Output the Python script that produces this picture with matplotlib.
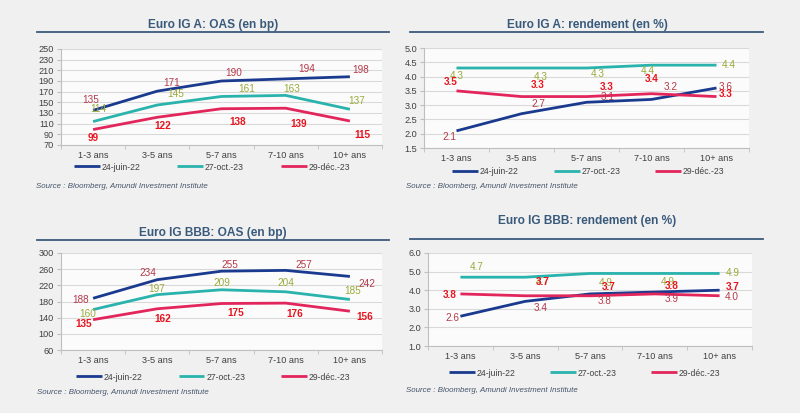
import numpy as np
import matplotlib
matplotlib.use("Agg")
import matplotlib.pyplot as plt
from matplotlib.lines import Line2D

plt.rcParams['font.family'] = ['Liberation Sans', 'DejaVu Sans']

# data
categories = ["1-3 ans", "3-5 ans", "5-7 ans", "7-10 ans", "10+ ans"]
series_names = ["24-juin-22", "27-oct.-23", "29-déc.-23"]

a_oas_jun22 = [135, 171, 190, 194, 198]
a_oas_oct23 = [114, 145, 161, 163, 137]
a_oas_dec23 = [99, 122, 138, 139, 115]

a_yld_jun22 = [2.1, 2.7, 3.1, 3.2, 3.6]
a_yld_oct23 = [4.3, 4.3, 4.3, 4.4, 4.4]
a_yld_dec23 = [3.5, 3.3, 3.3, 3.4, 3.3]

bbb_oas_jun22 = [188, 234, 255, 257, 242]
bbb_oas_oct23 = [160, 197, 209, 204, 185]
bbb_oas_dec23 = [135, 162, 175, 176, 156]

bbb_yld_jun22 = [2.6, 3.4, 3.8, 3.9, 4.0]
bbb_yld_oct23 = [4.7, 4.7, 4.9, 4.9, 4.9]
bbb_yld_dec23 = [3.8, 3.7, 3.7, 3.8, 3.7]

source = "Source : Bloomberg, Amundi Investment Institute"

# styles
W, H = 800, 413
line_cols = ["#1a3a8f", "#2ab3ad", "#e2265c"]
lab_cols = ["#b5394a", "#9aaa3a", "#e8141e"]
lab_weights = ["normal", "normal", "bold"]
title_col = "#3a5a7c"

fig = plt.figure(figsize=(W / 100, H / 100), dpi=100, facecolor="#f0f0f0")


def fx(px):
    return px / W


def fy(py):
    return 1 - py / H


# label offsets in pixels (dx, dy) per series per point
off_tl = [[(-2, 10), (14, 8), (12, 8), (21, 10), (11, 7)],
          [(5, 13), (18, 11), (25, 7), (6, 6), (7, 8)],
          [(0, -8), (5, -9), (16, -13), (13, -16), (13, -14)]]
off_tr = [[(-7, -6), (17, 10), (21, 5), (19, 12), (9, 1)],
          [(0, -8), (19, -9), (11, -6), (-4, -6), (12, 0)],
          [(-6, 9), (16, 12), (20, 10), (0, 15), (9, 3)]]
off_bl = [[(-13, -2), (-9, 7), (8, 6), (18, 5), (17, -8)],
          [(-5, -4), (-1, 6), (0, 7), (0, 9), (3, 8)],
          [(-9, -4), (5, -10), (14, -9), (9, -11), (15, -6)]]
off_br = [[(-8, -2), (15, -7), (15, -7), (17, -7), (12, -7)],
          [(16, 10), (17, -5), (16, -10), (13, -9), (13, 0)],
          [(-11, -1), (18, 14), (19, 9), (17, 8), (13, 9)]]

panels = [
    dict(title="Euro IG A: OAS (en bp)", box=(61, 49, 382, 145),
         data=[a_oas_jun22, a_oas_oct23, a_oas_dec23], ylim=(70, 250),
         yticks=np.arange(70, 251, 20), fmt="{:.0f}", off=off_tl,
         title_xy=(213, 25), rule=(37, 389, 32), leg=(74, 167), src=(36, 186),
         colsp=4.3),
    dict(title="Euro IG A: rendement (en %)", box=(424, 48, 749, 148),
         data=[a_yld_jun22, a_yld_oct23, a_yld_dec23], ylim=(1.5, 5.0),
         yticks=np.arange(1.5, 5.01, 0.5), fmt="{:.1f}", off=off_tr,
         title_xy=(587, 25), rule=(410, 763, 32), leg=(452, 172), src=(406, 186),
         colsp=4.1),
    dict(title="Euro IG BBB: OAS (en bp)", box=(61, 253, 382, 350),
         data=[bbb_oas_jun22, bbb_oas_oct23, bbb_oas_dec23], ylim=(60, 300),
         yticks=np.arange(60, 301, 40), fmt="{:.0f}", off=off_bl,
         title_xy=(213, 233), rule=(37, 389, 240), leg=(76, 377), src=(37, 392),
         colsp=4.2),
    dict(title="Euro IG BBB: rendement (en %)", box=(428, 253, 752, 346),
         data=[bbb_yld_jun22, bbb_yld_oct23, bbb_yld_dec23], ylim=(1.0, 6.0),
         yticks=np.arange(1.0, 6.01, 1.0), fmt="{:.1f}", off=off_br,
         title_xy=(587, 221), rule=(410, 763, 239), leg=(449, 373), src=(406, 390),
         colsp=4.0),
]

x = np.arange(len(categories))

for p in panels:
    l, t, r, b = p["box"]
    ax = fig.add_axes([fx(l), fy(b), fx(r) - fx(l), fy(t) - fy(b)])
    ax.set_facecolor("#fbfbfb")
    handles = []
    for i, vals in enumerate(p["data"]):
        h, = ax.plot(x, vals, color=line_cols[i], lw=2.0, solid_capstyle="butt")
        handles.append(h)
    for i, vals in enumerate(p["data"]):
        for j, v in enumerate(vals):
            ax.annotate(p["fmt"].format(v), (x[j], v), xytext=p["off"][i][j],
                        textcoords="offset pixels", ha="center", va="center",
                        fontsize=7.2, color=lab_cols[i], fontweight=lab_weights[i],
                        zorder=5)
    ax.set_xlim(-0.5, len(categories) - 0.5)
    ax.set_ylim(*p["ylim"])
    ax.set_yticks(p["yticks"])
    ax.set_yticklabels([p["fmt"].format(v) for v in p["yticks"]])
    ax.set_xticks(x)
    ax.set_xticklabels(categories)
    ax.set_xticks(np.arange(-0.5, len(categories), 1), minor=True)
    ax.tick_params(axis="x", which="major", length=0, pad=4, labelsize=6.6,
                   labelcolor="#404040")
    ax.tick_params(axis="x", which="minor", length=3, color="#bfbfbf")
    ax.tick_params(axis="y", length=3, color="#bfbfbf", labelsize=6.6,
                   labelcolor="#404040", pad=2)
    ax.grid(axis="y", color="#d9d9d9", lw=0.8)
    ax.set_axisbelow(True)
    for s in ["top", "right"]:
        ax.spines[s].set_visible(False)
    for s in ["left", "bottom"]:
        ax.spines[s].set_color("#bfbfbf")
        ax.spines[s].set_linewidth(0.8)

    fig.text(fx(p["title_xy"][0]), fy(p["title_xy"][1]), p["title"], ha="center",
             va="center", fontsize=8.6, fontweight="bold", color=title_col)
    x0, x1, yr = p["rule"]
    fig.add_artist(Line2D([fx(x0), fx(x1)], [fy(yr), fy(yr)], color=title_col,
                          lw=1.3, transform=fig.transFigure))
    lx, ly = p["leg"]
    leg = ax.legend(handles, series_names, loc="center left", ncol=3,
                    bbox_to_anchor=(fx(lx), fy(ly)), bbox_transform=fig.transFigure,
                    frameon=False, fontsize=6.2, handlelength=3.0,
                    handletextpad=0.2, columnspacing=p["colsp"], borderpad=0,
                    borderaxespad=0)
    for txt in leg.get_texts():
        txt.set_color("#404040")
    fig.text(fx(p["src"][0]), fy(p["src"][1]), source, ha="left", va="center",
             fontsize=5.7, style="italic", color="#44546a")

fig.savefig("out.png", dpi=100, facecolor=fig.get_facecolor())
